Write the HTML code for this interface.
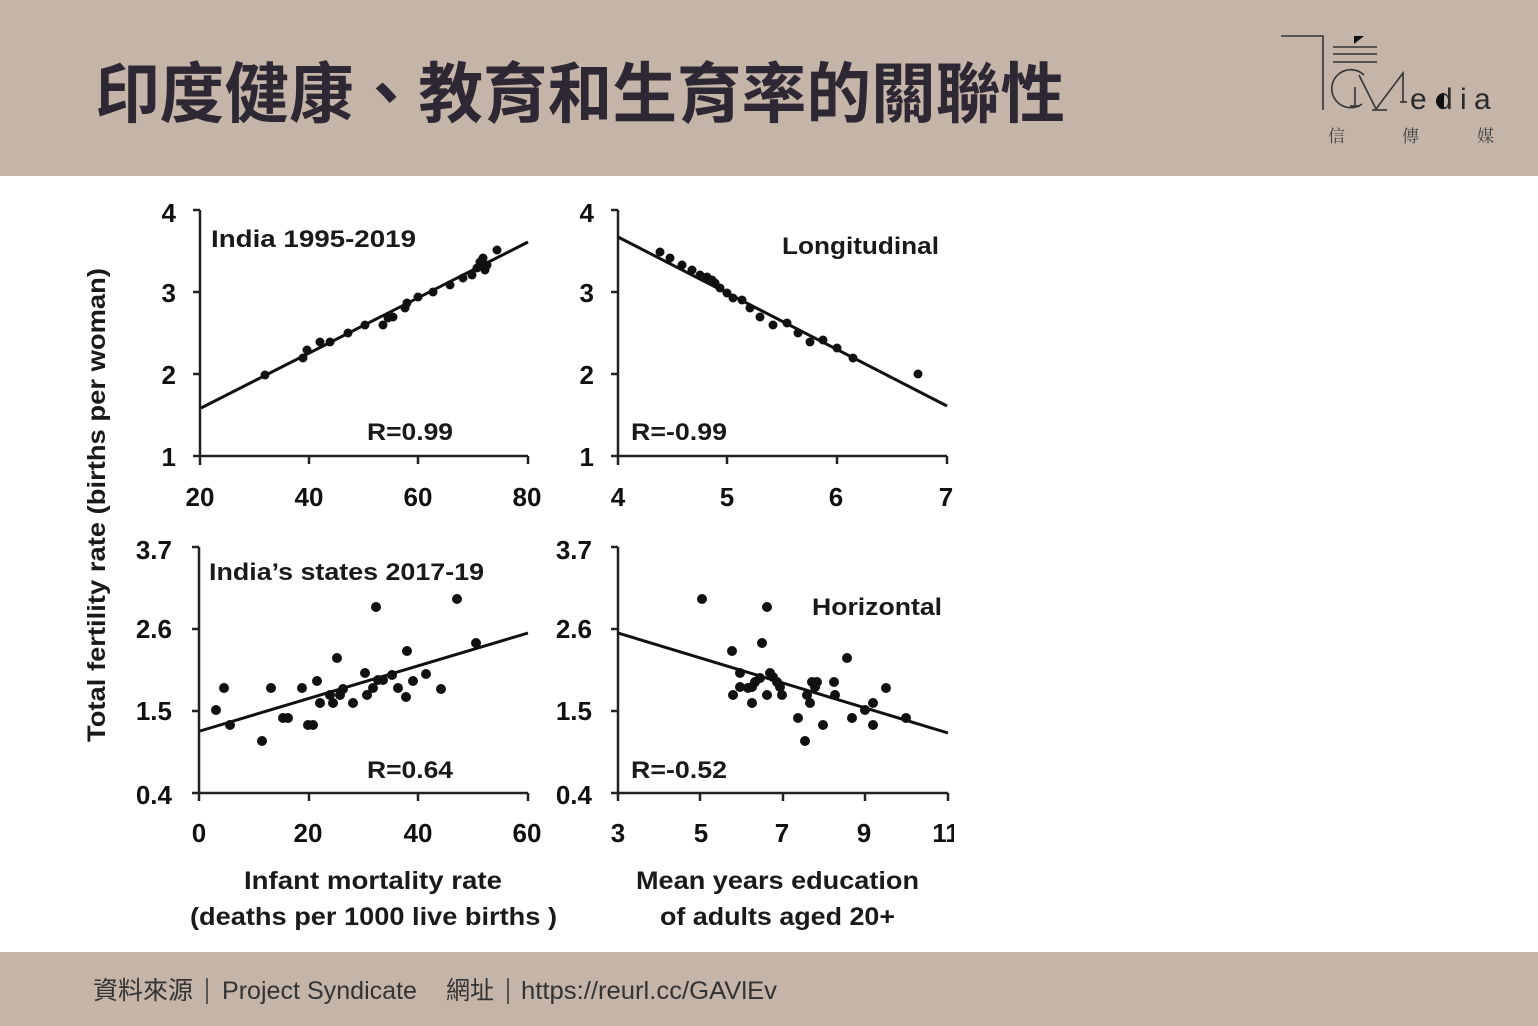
<!DOCTYPE html>
<html><head><meta charset="utf-8">
<style>
html,body{margin:0;padding:0;background:#fff;}
body{width:1538px;height:1026px;overflow:hidden;}
svg{display:block}
</style></head><body>
<svg width="1538" height="1026" viewBox="0 0 1538 1026" xmlns="http://www.w3.org/2000/svg">
<defs>
<clipPath id="cc"><rect x="0" y="176" width="954" height="776"/></clipPath>
</defs>
<rect x="0" y="0" width="1538" height="1026" fill="#ffffff"/>
<rect x="0" y="0" width="1538" height="176" fill="#c5b5a9"/>
<rect x="0" y="952" width="1538" height="74" fill="#c5b5a9"/>

<!-- Title -->
<text x="95" y="117" font-family="'Liberation Sans','Noto Sans CJK TC',sans-serif" font-weight="bold" font-size="66" fill="#2d2833" textLength="970" lengthAdjust="spacingAndGlyphs">印度健康、教育和生育率的關聯性</text>

<!-- Logo -->
<g stroke="#333" stroke-width="1.6" fill="none">
<polyline points="1281,36 1323,36 1323,110"/>
<line x1="1333" y1="47" x2="1377" y2="47"/>
<line x1="1333" y1="54" x2="1377" y2="54"/>
<line x1="1333" y1="62" x2="1377" y2="62"/>
<path d="M1364 75 A19 19 0 1 0 1362 104"/>
<line x1="1355" y1="87" x2="1355" y2="105"/>
<polyline points="1359,75 1376,109 1403,73 1403,102"/>
<line x1="1350" y1="106" x2="1360" y2="106"/>
<line x1="1372" y1="110" x2="1387" y2="110"/>
<line x1="1400" y1="102" x2="1407" y2="102"/>
</g>
<polygon points="1354,36 1364,36 1354,44" fill="#111"/>
<g font-family="'Liberation Sans',sans-serif" font-size="30" fill="#2a2a2a">
<text x="1410" y="109">e</text>
<text x="1436" y="109">d</text>
<text x="1460" y="109">i</text>
<text x="1474" y="109">a</text>
</g>
<path d="M1444 93 A8 8 0 0 0 1444 109 Z" fill="#111"/>
<g font-family="'Noto Serif CJK SC','Noto Sans CJK TC',serif" font-size="17" fill="#444">
<text x="1328" y="142">信</text>
<text x="1402" y="142">傳</text>
<text x="1477" y="142">媒</text>
</g>

<!-- Charts -->
<g clip-path="url(#cc)">
<g stroke="#222" stroke-width="2.5" fill="none">
<!-- TL -->
<path d="M200 210 V465 M200 456 H528 M193 210 H200 M193 292 H200 M193 374 H200 M193 456 H200 M309 456 V464 M418 456 V464 M528 456 V464"/>
<!-- TR -->
<path d="M618 210 V465 M618 456 H947 M611 210 H618 M611 292 H618 M611 374 H618 M611 456 H618 M727 456 V464 M837 456 V464 M947 456 V464"/>
<!-- BL -->
<path d="M199 547 V801 M199 793 H528 M192 547 H199 M192 629 H199 M192 711 H199 M192 793 H199 M309 793 V801 M418 793 V801 M528 793 V801"/>
<!-- BR -->
<path d="M618 547 V801 M618 793 H948 M611 547 H618 M611 629 H618 M611 711 H618 M611 793 H618 M700 793 V801 M783 793 V801 M865 793 V801 M948 793 V801"/>
</g>
<g stroke="#111" stroke-width="3" fill="none">
<line x1="201" y1="408" x2="528" y2="242"/>
<line x1="618" y1="237" x2="947" y2="406"/>
<line x1="200" y1="731" x2="528" y2="633"/>
<line x1="618" y1="633" x2="948" y2="733"/>
</g>

<!-- TL dots -->
<g fill="#111">
<circle cx="265" cy="375" r="4.5"/><circle cx="303" cy="358" r="4.5"/><circle cx="307" cy="350" r="4.5"/><circle cx="320" cy="342" r="4.5"/><circle cx="330" cy="342" r="4.5"/><circle cx="348" cy="333" r="4.5"/><circle cx="365" cy="325" r="4.5"/><circle cx="383" cy="325" r="4.5"/><circle cx="388" cy="318" r="4.5"/><circle cx="393" cy="317" r="4.5"/><circle cx="405" cy="308" r="4.5"/><circle cx="407" cy="303" r="4.5"/><circle cx="418" cy="297" r="4.5"/><circle cx="433" cy="292" r="4.5"/><circle cx="450" cy="285" r="4.5"/><circle cx="463" cy="278" r="4.5"/><circle cx="472" cy="275" r="4.5"/><circle cx="477" cy="268" r="4.5"/><circle cx="480" cy="262" r="4.5"/><circle cx="483" cy="258" r="4.5"/><circle cx="485" cy="270" r="4.5"/><circle cx="487" cy="265" r="4.5"/><circle cx="497" cy="250" r="4.5"/>
</g>
<!-- TR dots -->
<g fill="#111">
<circle cx="660" cy="252" r="4.5"/><circle cx="670" cy="258" r="4.5"/><circle cx="682" cy="265" r="4.5"/><circle cx="692" cy="270" r="4.5"/><circle cx="700" cy="275" r="4.5"/><circle cx="707" cy="277" r="4.5"/><circle cx="712" cy="280" r="4.5"/><circle cx="715" cy="283" r="4.5"/><circle cx="720" cy="288" r="4.5"/><circle cx="727" cy="293" r="4.5"/><circle cx="733" cy="298" r="4.5"/><circle cx="742" cy="300" r="4.5"/><circle cx="750" cy="308" r="4.5"/><circle cx="760" cy="317" r="4.5"/><circle cx="773" cy="325" r="4.5"/><circle cx="787" cy="323" r="4.5"/><circle cx="798" cy="333" r="4.5"/><circle cx="810" cy="342" r="4.5"/><circle cx="823" cy="340" r="4.5"/><circle cx="837" cy="348" r="4.5"/><circle cx="853" cy="358" r="4.5"/><circle cx="918" cy="374" r="4.5"/>
</g>
<!-- BL dots -->
<g fill="#111">
<circle cx="216" cy="710" r="5"/><circle cx="224" cy="688" r="5"/><circle cx="230" cy="725" r="5"/><circle cx="262" cy="741" r="5"/><circle cx="271" cy="688" r="5"/><circle cx="283" cy="718" r="5"/><circle cx="288" cy="718" r="5"/><circle cx="302" cy="688" r="5"/><circle cx="308" cy="725" r="5"/><circle cx="313" cy="725" r="5"/><circle cx="317" cy="681" r="5"/><circle cx="320" cy="703" r="5"/><circle cx="330" cy="695" r="5"/><circle cx="333" cy="703" r="5"/><circle cx="337" cy="658" r="5"/><circle cx="340" cy="695" r="5"/><circle cx="343" cy="689" r="5"/><circle cx="353" cy="703" r="5"/><circle cx="365" cy="673" r="5"/><circle cx="367" cy="695" r="5"/><circle cx="376" cy="607" r="5"/><circle cx="373" cy="688" r="5"/><circle cx="378" cy="680" r="5"/><circle cx="383" cy="680" r="5"/><circle cx="392" cy="675" r="5"/><circle cx="398" cy="688" r="5"/><circle cx="406" cy="697" r="5"/><circle cx="407" cy="651" r="5"/><circle cx="413" cy="681" r="5"/><circle cx="426" cy="674" r="5"/><circle cx="441" cy="689" r="5"/><circle cx="457" cy="599" r="5"/><circle cx="476" cy="643" r="5"/>
</g>
<!-- BR dots -->
<g fill="#111">
<circle cx="702" cy="599" r="5"/><circle cx="767" cy="607" r="5"/><circle cx="732" cy="651" r="5"/><circle cx="762" cy="643" r="5"/><circle cx="847" cy="658" r="5"/><circle cx="740" cy="673" r="5"/><circle cx="733" cy="695" r="5"/><circle cx="740" cy="687" r="5"/><circle cx="748" cy="688" r="5"/><circle cx="752" cy="687" r="5"/><circle cx="752" cy="703" r="5"/><circle cx="755" cy="682" r="5"/><circle cx="760" cy="678" r="5"/><circle cx="767" cy="695" r="5"/><circle cx="770" cy="673" r="5"/><circle cx="773" cy="677" r="5"/><circle cx="777" cy="682" r="5"/><circle cx="780" cy="687" r="5"/><circle cx="782" cy="695" r="5"/><circle cx="798" cy="718" r="5"/><circle cx="805" cy="741" r="5"/><circle cx="807" cy="695" r="5"/><circle cx="810" cy="703" r="5"/><circle cx="812" cy="682" r="5"/><circle cx="815" cy="687" r="5"/><circle cx="817" cy="682" r="5"/><circle cx="823" cy="725" r="5"/><circle cx="834" cy="682" r="5"/><circle cx="835" cy="695" r="5"/><circle cx="852" cy="718" r="5"/><circle cx="865" cy="710" r="5"/><circle cx="873" cy="703" r="5"/><circle cx="873" cy="725" r="5"/><circle cx="886" cy="688" r="5"/><circle cx="906" cy="718" r="5"/>
</g>

<!-- Tick labels -->
<g font-family="'Liberation Sans',sans-serif" font-weight="bold" font-size="26" fill="#111">
<g text-anchor="end">
<text x="176" y="222">4</text><text x="176" y="302">3</text><text x="176" y="384">2</text><text x="176" y="466">1</text>
<text x="594" y="222">4</text><text x="594" y="302">3</text><text x="594" y="384">2</text><text x="594" y="466">1</text>
<text x="172" y="559">3.7</text><text x="172" y="638">2.6</text><text x="172" y="720">1.5</text><text x="172" y="804">0.4</text>
<text x="592" y="559">3.7</text><text x="592" y="638">2.6</text><text x="592" y="720">1.5</text><text x="592" y="804">0.4</text>
</g>
<g text-anchor="middle">
<text x="200" y="506">20</text><text x="309" y="506">40</text><text x="418" y="506">60</text><text x="527" y="506">80</text>
<text x="618" y="506">4</text><text x="727" y="506">5</text><text x="836" y="506">6</text><text x="946" y="506">7</text>
<text x="199" y="842">0</text><text x="308" y="842">20</text><text x="418" y="842">40</text><text x="527" y="842">60</text>
<text x="618" y="842">3</text><text x="701" y="842">5</text><text x="782" y="842">7</text><text x="864" y="842">9</text><text x="946" y="842">11</text>
</g>
</g>

<!-- Annotations -->
<g font-family="'Liberation Sans',sans-serif" font-weight="bold" font-size="24" fill="#1a1a1a">
<text x="211" y="247" textLength="205" lengthAdjust="spacingAndGlyphs">India 1995-2019</text>
<text x="367" y="440" textLength="86" lengthAdjust="spacingAndGlyphs">R=0.99</text>
<text x="782" y="254" textLength="157" lengthAdjust="spacingAndGlyphs">Longitudinal</text>
<text x="631" y="440" textLength="96" lengthAdjust="spacingAndGlyphs">R=-0.99</text>
<text x="209" y="580" textLength="275" lengthAdjust="spacingAndGlyphs">India’s states 2017-19</text>
<text x="367" y="778" textLength="86" lengthAdjust="spacingAndGlyphs">R=0.64</text>
<text x="812" y="615" textLength="130" lengthAdjust="spacingAndGlyphs">Horizontal</text>
<text x="631" y="778" textLength="96" lengthAdjust="spacingAndGlyphs">R=-0.52</text>
</g>

<!-- Axis titles -->
<g font-family="'Liberation Sans',sans-serif" font-weight="bold" font-size="25" fill="#1a1a1a">
<text x="244" y="889" textLength="258" lengthAdjust="spacingAndGlyphs">Infant mortality rate</text>
<text x="190" y="925" textLength="367" lengthAdjust="spacingAndGlyphs">(deaths per 1000 live births )</text>
<text x="636" y="889" textLength="283" lengthAdjust="spacingAndGlyphs">Mean years education</text>
<text x="660" y="925" textLength="235" lengthAdjust="spacingAndGlyphs">of adults aged 20+</text>
<text transform="translate(105,505) rotate(-90)" text-anchor="middle" textLength="474" lengthAdjust="spacingAndGlyphs">Total fertility rate (births per woman)</text>
</g>
</g>

<!-- Footer -->
<g font-size="25" fill="#333">
<text x="93" y="999" font-family="'Liberation Sans','Noto Sans CJK TC',sans-serif" textLength="100" lengthAdjust="spacingAndGlyphs">資料來源</text>
<line x1="207" y1="978" x2="207" y2="1004" stroke="#333" stroke-width="1.5"/>
<text x="222" y="999" font-family="'Liberation Sans',sans-serif" textLength="195" lengthAdjust="spacingAndGlyphs">Project Syndicate</text>
<text x="446" y="999" font-family="'Liberation Sans','Noto Sans CJK TC',sans-serif" textLength="48" lengthAdjust="spacingAndGlyphs">網址</text>
<line x1="508" y1="978" x2="508" y2="1004" stroke="#333" stroke-width="1.5"/>
<text x="521" y="999" font-family="'Liberation Sans',sans-serif" textLength="256" lengthAdjust="spacingAndGlyphs">https://reurl.cc/GAVlEv</text>
</g>
</svg>
</body></html>
